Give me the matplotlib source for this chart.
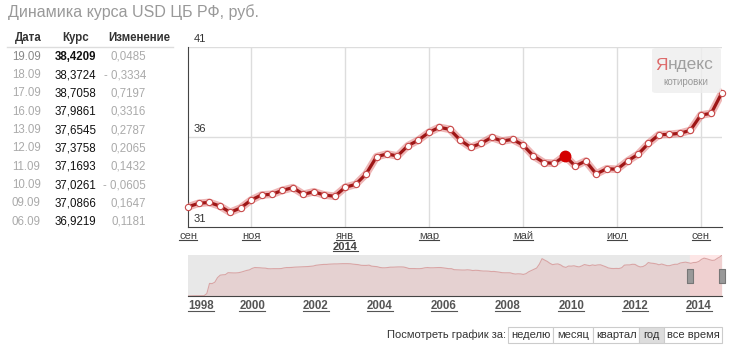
import matplotlib
matplotlib.use('Agg')
import matplotlib.pyplot as plt
from matplotlib.patches import Rectangle, FancyBboxPatch
from matplotlib.lines import Line2D
import pandas as pd

plt.rcParams['font.family'] = ['Liberation Sans', 'DejaVu Sans']

W, H = 740, 357

# table on the left
table_dates = ['19.09', '18.09', '17.09', '16.09', '13.09', '12.09', '11.09', '10.09', '09.09', '06.09']
table_rates = [38.4209, 38.3724, 38.7058, 37.9861, 37.6545, 37.3758, 37.1693, 37.0261, 37.0866, 36.9219]
table_changes = [0.0485, -0.3334, 0.7197, 0.3316, 0.2787, 0.2065, 0.1432, -0.0605, 0.1647, 0.1181]

# weekly rate for the last year (main chart)
week_rates = [32.11, 32.30, 32.35, 32.15, 31.80, 32.04, 32.48, 32.76, 32.80, 33.02,
              33.17, 32.80, 32.94, 32.76, 32.69, 33.19, 33.35, 33.93, 34.89, 35.04,
              34.93, 35.50, 35.81, 36.24, 36.52, 36.41, 35.81, 35.41, 35.63, 35.96,
              35.76, 35.85, 35.54, 34.93, 34.56, 34.52, 34.94, 34.37, 34.65, 33.93,
              34.22, 34.19, 34.65, 35.02, 35.63, 36.11, 36.13, 36.19, 36.35, 37.20,
              37.30, 38.42]
month_labels = ['сен', 'ноя', 'янв', 'мар', 'май', 'июл', 'сен']
month_idx = [0, 6, 15, 23, 32, 41, 49]
year_label = '2014'
year_idx = 15
y_ticks = [31, 36, 41]
highlight = 36

# monthly rate since 1998 (navigator)
hist_rates = [
    5.97, 6.05, 6.10, 6.11, 6.14, 6.18, 6.23, 7.90, 16.0, 15.9, 17.0, 20.6,
    22.6, 22.9, 23.0, 24.6, 24.5, 24.4, 24.4, 24.6, 25.1, 25.7, 26.4, 26.8,
    28.0, 28.7, 28.6, 28.5, 28.3, 28.2, 27.8, 27.7, 27.8, 27.8, 27.8, 27.9,
    28.4, 28.7, 28.7, 28.8, 29.0, 29.1, 29.2, 29.3, 29.4, 29.5, 29.7, 29.9,
    30.5, 30.8, 31.0, 31.2, 31.2, 31.4, 31.5, 31.6, 31.6, 31.7, 31.8, 31.8,
    31.8, 31.7, 31.4, 31.2, 31.0, 30.5, 30.4, 30.4, 30.6, 29.8, 29.6, 29.4,
    28.8, 28.5, 28.5, 28.7, 29.0, 29.0, 29.1, 29.2, 29.2, 29.1, 28.6, 27.9,
    27.9, 27.9, 27.8, 27.8, 28.0, 28.5, 28.7, 28.5, 28.5, 28.6, 28.7, 28.7,
    28.4, 28.1, 27.8, 27.8, 27.0, 26.9, 26.8, 26.7, 26.7, 26.9, 26.7, 26.3,
    26.5, 26.4, 26.1, 25.9, 25.9, 25.8, 25.5, 25.6, 25.3, 25.0, 24.6, 24.5,
    24.5, 24.5, 23.9, 23.5, 23.7, 23.6, 23.2, 23.8, 25.3, 26.3, 27.4, 28.3,
    31.4, 35.8, 34.7, 33.6, 32.1, 31.0, 31.4, 31.6, 30.8, 29.4, 28.8, 29.9,
    29.8, 30.1, 29.6, 29.2, 30.0, 31.1, 30.6, 30.2, 30.8, 30.4, 30.8, 30.9,
    30.1, 29.3, 28.4, 28.0, 27.9, 28.0, 27.9, 28.5, 30.6, 30.8, 30.8, 31.3,
    31.2, 29.9, 29.2, 29.5, 30.6, 32.7, 32.2, 32.0, 31.6, 30.9, 31.5, 30.9,
    30.2, 30.2, 30.8, 31.3, 31.3, 32.3, 32.7, 33.0, 32.5, 32.1, 32.7, 32.8,
    33.6, 35.3, 36.2, 35.7, 35.0, 34.4, 34.6, 36.1, 37.3]
hist_start = '1998-01-01'
sel_start = '2013-09-20'
last_day = '2014-09-19'
nav_years = list(range(1998, 2015, 2))

periods = ['неделю', 'месяц', 'квартал', 'год', 'все время']
active_period = 'год'


def fx(px):
    return px / W


def fy(py):
    return 1 - py / H


fig = plt.figure(figsize=(7.4, 3.57), dpi=100)
fig.text(fx(8), fy(12), 'Динамика курса USD ЦБ РФ, руб.', fontsize=11.5, color='#999999', va='center')

# table
fig.text(fx(15), fy(38), 'Дата', fontsize=8.3, fontweight='bold', color='#333333', va='center')
fig.text(fx(62), fy(38), 'Курс', fontsize=8.3, fontweight='bold', color='#333333', va='center')
fig.text(fx(108), fy(38), 'Изменение', fontsize=8.3, fontweight='bold', color='#333333', va='center')
fig.add_artist(Line2D([fx(7), fx(173)], [fy(47), fy(47)], transform=fig.transFigure, color='#dddddd', lw=1))
for i, (d, r, c) in enumerate(zip(table_dates, table_rates, table_changes)):
    yy = fy(56.7 + i * 18.35)
    fig.text(fx(12), yy, d, fontsize=8.3, color='#888888' if i == 0 else '#aaaaaa', va='center')
    fig.text(fx(55), yy, f'{r:.4f}'.replace('.', ','), fontsize=8.3, color='#111111', va='center',
             fontweight='bold' if i == 0 else 'normal')
    s = f'{abs(c):.4f}'.replace('.', ',')
    if c < 0:
        s = '- ' + s
    fig.text(fx(146), yy, s, fontsize=8.3, color='#aaaaaa', va='center', ha='right')

# main chart
ax = fig.add_axes([fx(188.3), fy(226.7), (721.7 - 188.3) / W, (226.7 - 46.7) / H])
x = list(range(len(week_rates)))
for v in y_ticks[1:]:
    ax.axhline(v, color='#dddddd', lw=1, zorder=1)
for i in month_idx[1:]:
    ax.axvline(i, color='#dddddd', lw=1, zorder=1)
ax.plot(x, week_rates, color='#e07a7a', lw=5.5, alpha=0.55, solid_joinstyle='round', zorder=3)
ax.plot(x, week_rates, color='#9e1616', lw=2.3, zorder=4)
ax.plot(x, week_rates, ls='none', marker='o', ms=4.5, mfc='white', mec='#c84a4a', mew=0.8, zorder=5, clip_on=False)
ax.plot(highlight, week_rates[highlight], 'o', ms=7.5, color='#d40000', zorder=6)
ax.set_xlim(0, len(week_rates) - 1)
ax.set_ylim(y_ticks[0], y_ticks[-1])
for side in ['top', 'right']:
    ax.spines[side].set_visible(False)
for side in ['left', 'bottom']:
    ax.spines[side].set_color('#444444')
ax.set_yticks([])
ax.set_xticks(month_idx)
ax.set_xticklabels(month_labels, fontsize=8, color='#444444')
ax.tick_params(length=0, pad=3)
for v in y_ticks:
    ax.annotate(str(v), xy=(0, v), xycoords=('axes fraction', 'data'), xytext=(5, 3),
                textcoords='offset pixels', fontsize=8, color='#333333', va='bottom')
yr = ax.annotate(year_label, xy=(year_idx, 0), xycoords=('data', 'axes fraction'), xytext=(0, -20),
                 textcoords='offset pixels', fontsize=8, fontweight='bold', color='#444444',
                 ha='center', va='center')

# yandex badge
fig.add_artist(FancyBboxPatch((fx(652), fy(93)), fx(69), (93 - 48) / H,
                              boxstyle='round,pad=0,rounding_size=0.006', transform=fig.transFigure,
                              fc='#eeeeee', ec='none', alpha=0.8, zorder=10))
fig.text(fx(668), fy(65), 'Я', fontsize=12.5, color='#dd6a6a', ha='right', va='center', zorder=11)
fig.text(fx(668), fy(65), 'ндекс', fontsize=12.5, color='#a0a0a0', ha='left', va='center', zorder=11)
fig.text(fx(686), fy(82), 'котировки', fontsize=7, color='#999999', ha='center', va='center', zorder=11)

# navigator
nav = fig.add_axes([fx(188.3), fy(296), (721.7 - 188.3) / W, (296 - 255) / H])
nav_dates = [d.to_pydatetime() for d in pd.date_range(hist_start, periods=len(hist_rates), freq='MS')]
nav_dates.append(pd.Timestamp(last_day).to_pydatetime())
nav_rates = hist_rates + [week_rates[-1]]
t0 = pd.Timestamp(hist_start).to_pydatetime()
t1 = pd.Timestamp(last_day).to_pydatetime()
ts = pd.Timestamp(sel_start).to_pydatetime()
nav.set_facecolor('#e8e8e8')
nav.axvspan(ts, t1, color='#fde6e6', zorder=0)
lo = min(nav_rates)
hi = max(nav_rates) + 0.3
nav.fill_between(nav_dates, lo, nav_rates, color='#e3bcbc', alpha=0.5, lw=0, zorder=1)
nav.plot(nav_dates, nav_rates, color='#d9a5a5', lw=0.8, zorder=2)
nav.set_xlim(t0, t1)
nav.set_ylim(lo, hi)
for side in ['top', 'right', 'left']:
    nav.spines[side].set_visible(False)
nav.spines['bottom'].set_color('#444444')
nav.set_yticks([])
nav.set_xticks([pd.Timestamp(f'{y}-01-01').to_pydatetime() for y in nav_years])
nav.set_xticklabels([str(y) for y in nav_years], fontsize=8.3, fontweight='bold', color='#555555')
nav.get_xticklabels()[0].set_ha('left')
nav.tick_params(length=0, pad=3)
handle = [(-0.4, -1), (0.4, -1), (0.4, 1), (-0.4, 1), (-0.4, -1)]
mid = (lo + hi) / 2
nav.plot([ts, t1], [mid, mid], ls='none', marker=handle, ms=10, mfc='#999999', mec='#777777',
         mew=0.8, clip_on=False, zorder=5)

# period buttons
fig.text(fx(506), fy(335), 'Посмотреть график за:', fontsize=8, color='#333333', ha='right', va='center')
btn_edges = [508, 553.3, 593.3, 639.3, 664, 722.3]
for i, p in enumerate(periods):
    x0, x1 = btn_edges[i], btn_edges[i + 1]
    fig.add_artist(Rectangle((fx(x0), fy(343.3)), (x1 - x0) / W, 16 / H, transform=fig.transFigure,
                             fc='#dddddd' if p == active_period else 'white', ec='#cccccc', lw=0.8))
    fig.text(fx((x0 + x1) / 2), fy(335.3), p, fontsize=8, color='#333333', ha='center', va='center')

# underline the link-like labels
fig.canvas.draw()
for t in list(ax.get_xticklabels()) + list(nav.get_xticklabels()) + [yr]:
    bb = t.get_window_extent()
    yline = bb.y0 + 1
    fig.add_artist(Line2D([bb.x0 / W, bb.x1 / W], [yline / H, yline / H], transform=fig.transFigure,
                          color=t.get_color(), lw=0.8))

fig.savefig('out.png', dpi=100)
